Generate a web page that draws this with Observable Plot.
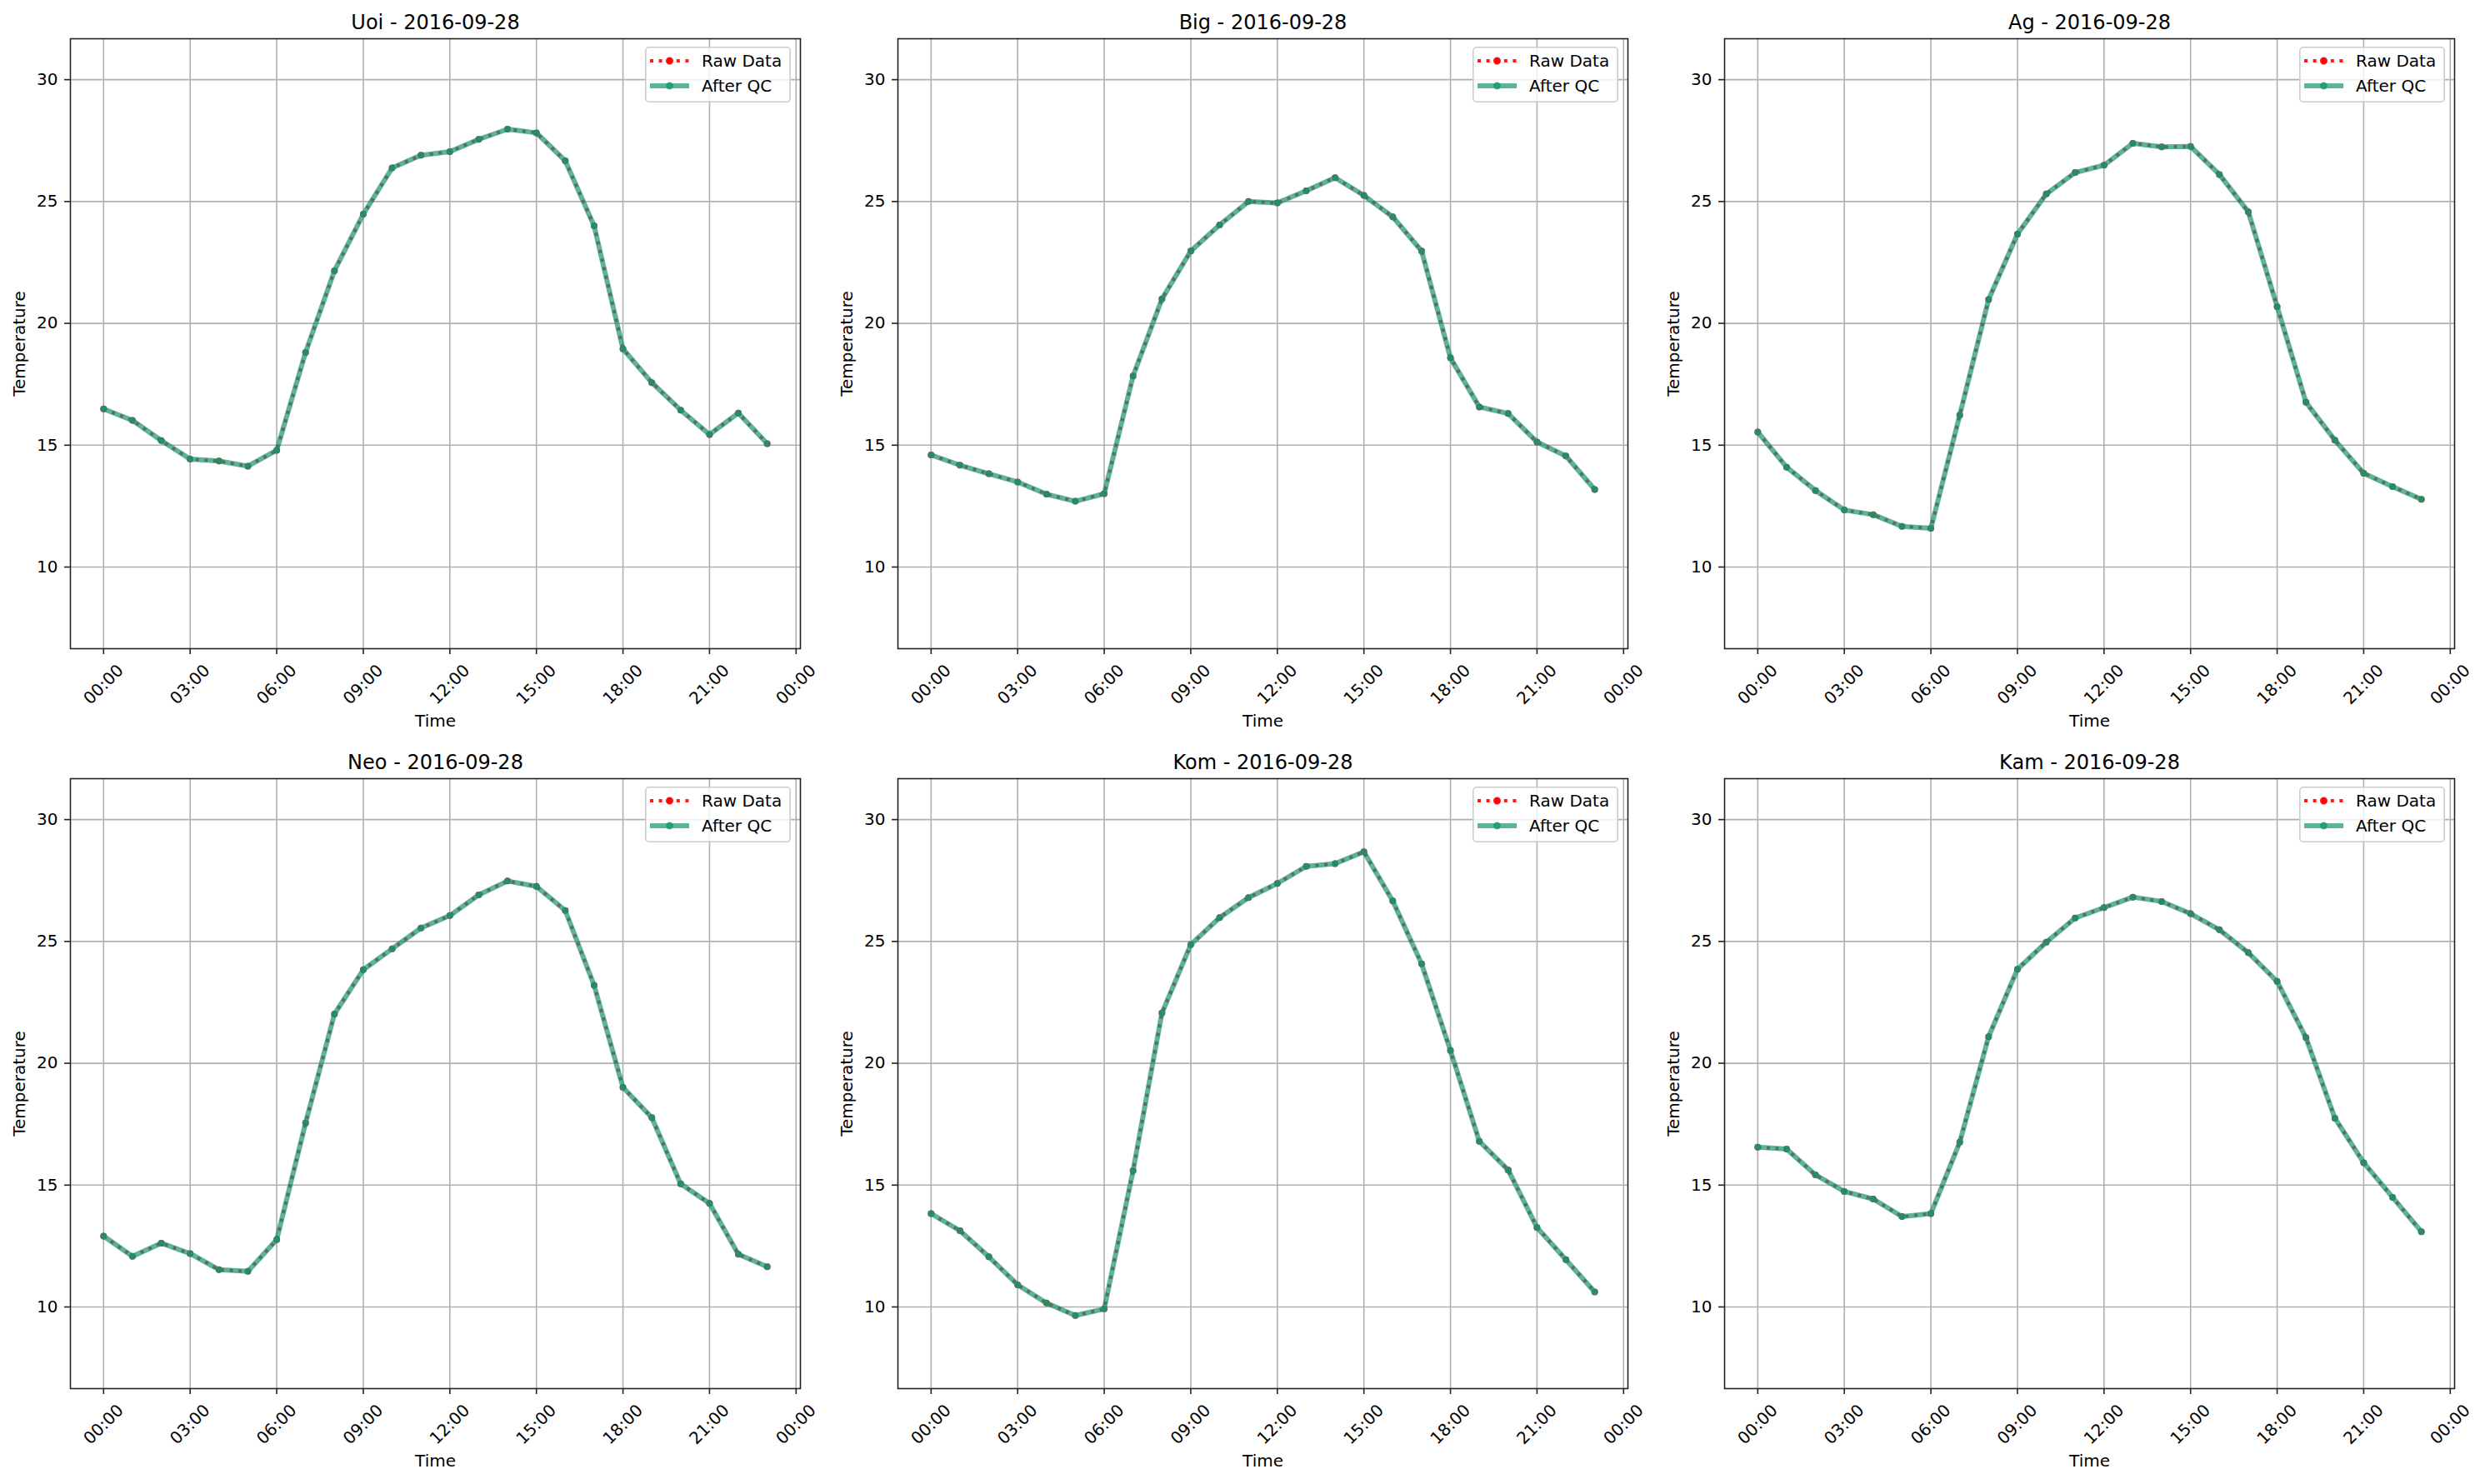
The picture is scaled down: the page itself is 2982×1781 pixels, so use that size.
<!DOCTYPE html>
<html>
<head>
<meta charset="utf-8">
<script src="https://cdn.jsdelivr.net/npm/d3@7"></script>
<script src="https://cdn.jsdelivr.net/npm/@observablehq/plot@0.6"></script>
<style>
  html, body { margin: 0; padding: 0; background: #ffffff; }
  #chart { position: relative; width: 2982px; height: 1781px; font-family: "DejaVu Sans", sans-serif; background: #ffffff; }
  .panel { position: absolute; }
  .legend { position: absolute; }
</style>
</head>
<body>
<div id="chart"></div>
<script>
// ---- data ----
const stations = ["Uoi", "Big", "Ag", "Neo", "Kom", "Kam"];
const dateLabel = "2016-09-28";
const hours = [0,1,2,3,4,5,6,7,8,9,10,11,12,13,14,15,16,17,18,19,20,21,22,23];

const uoi = [16.49,16.02,15.19,14.43,14.35,14.14,14.79,18.81,22.16,24.48,26.38,26.90,27.05,27.55,27.97,27.82,26.67,24.00,18.95,17.57,16.44,15.44,16.32,15.06];
const big = [14.60,14.18,13.83,13.49,12.99,12.70,13.01,17.84,21.00,22.97,24.04,25.00,24.94,25.44,25.98,25.25,24.37,22.97,18.58,16.57,16.30,15.13,14.56,13.18];
const ag  = [15.54,14.10,13.14,12.34,12.15,11.67,11.59,16.23,20.98,23.66,25.31,26.19,26.49,27.39,27.24,27.26,26.11,24.58,20.69,16.76,15.21,13.85,13.30,12.78];
const neo = [12.91,12.08,12.62,12.19,11.53,11.46,12.76,17.55,22.02,23.84,24.70,25.55,26.06,26.91,27.48,27.26,26.27,23.20,19.01,17.77,15.05,14.25,12.16,11.65];
const kom = [13.83,13.13,12.06,10.91,10.16,9.65,9.92,15.59,22.06,24.87,25.98,26.80,27.38,28.08,28.19,28.68,26.66,24.08,20.52,16.80,15.62,13.26,11.94,10.62];
const kam = [16.56,16.48,15.42,14.74,14.43,13.71,13.83,16.76,21.09,23.86,24.97,25.96,26.39,26.82,26.64,26.14,25.48,24.54,23.36,21.05,17.75,15.92,14.50,13.09];

// raw data and after-QC data coincide for this day
const rawSeries = [uoi, big, ag, neo, kom, kam];
const qcSeries  = [uoi, big, ag, neo, kom, kam];

const tickHours  = [0, 3, 6, 9, 12, 15, 18, 21, 24];
const tickLabels = ["00:00","03:00","06:00","09:00","12:00","15:00","18:00","21:00","00:00"];
const yTicks = [10, 15, 20, 25, 30];
const legendLabels = ["Raw Data", "After QC"];
const xLabel = "Time";
const yLabel = "Temperature";

// ---- style ----
const rawColor = "#ff0000";
const qcColor = "#17956f";
const gridColor = "#b0b0b0";
const axisColor = "#222222";
const FONT = "DejaVu Sans";

const W = 980, H = 888;
const mL = 84, mR = 20, mT = 46, mB = 110;
const colOffsets = [0, 993, 1985];
const rowOffsets = [0, 888];

const chart = document.getElementById("chart");

stations.forEach((name, i) => {
  const col = i % 3, row = Math.floor(i / 3);
  const rows = hours.map((h, k) => ({hour: h, raw: rawSeries[i][k], qc: qcSeries[i][k]}));
  const plot = Plot.plot({
    width: W, height: H,
    marginLeft: mL, marginRight: mR, marginTop: mT, marginBottom: mB,
    x: {domain: [-1.15, 24.15]},
    y: {domain: [6.65, 31.68]},
    style: {fontFamily: FONT, fontSize: "20px", color: "black", background: "transparent", overflow: "visible"},
    marks: [
      Plot.gridX(tickHours, {stroke: gridColor, strokeOpacity: 1, strokeWidth: 1.6}),
      Plot.gridY(yTicks, {stroke: gridColor, strokeOpacity: 1, strokeWidth: 1.6}),
      Plot.line(rows, {x: "hour", y: "raw", stroke: rawColor, strokeOpacity: 0.9, strokeWidth: 4, strokeDasharray: "4,6.6", strokeLinecap: "butt"}),
      Plot.dot(rows, {x: "hour", y: "raw", r: 3, fill: rawColor, fillOpacity: 0.9, stroke: rawColor, strokeOpacity: 0.9, strokeWidth: 2}),
      Plot.line(rows, {x: "hour", y: "qc", stroke: qcColor, strokeOpacity: 0.7, strokeWidth: 6}),
      Plot.dot(rows, {x: "hour", y: "qc", r: 3, fill: qcColor, fillOpacity: 0.7, stroke: qcColor, strokeOpacity: 0.7, strokeWidth: 2}),
      Plot.frame({stroke: axisColor, strokeWidth: 1.6}),
      Plot.axisX(tickHours, {tickSize: 7, tickFormat: () => "", label: null, stroke: axisColor, strokeWidth: 1.6}),
      Plot.text(tickHours, {x: d => d, text: (d, k) => tickLabels[k], frameAnchor: "bottom", dy: 43, rotate: -45, textAnchor: "middle", lineAnchor: "middle", fontSize: 20, fill: "black"}),
      Plot.axisY(yTicks, {tickSize: 7, tickPadding: 8, label: null, fontSize: 20, stroke: axisColor, strokeWidth: 1.6, fill: "black"}),
      Plot.text([`${name} - ${dateLabel}`], {text: d => d, frameAnchor: "top", dy: -12, lineAnchor: "bottom", fontSize: 24, fill: "black"}),
      Plot.text([yLabel], {text: d => d, frameAnchor: "left", dx: -61, rotate: -90, lineAnchor: "middle", textAnchor: "middle", fontSize: 20, fill: "black"}),
      Plot.text([xLabel], {text: d => d, frameAnchor: "bottom", dy: 87, lineAnchor: "middle", fontSize: 20, fill: "black"})
    ]
  });
  plot.classList.add("panel");
  plot.style.left = colOffsets[col] + "px";
  plot.style.top = rowOffsets[row] + "px";
  chart.appendChild(plot);

  // legend (upper right inside the axes)
  const lw = 175, lh = 67;
  const lg = d3.create("svg").attr("class", "legend").attr("width", lw).attr("height", lh)
    .style("left", (colOffsets[col] + mL + 876 - 11 - lw) + "px")
    .style("top", (rowOffsets[row] + mT + 10) + "px");
  lg.append("rect").attr("x", 0.8).attr("y", 0.8).attr("width", lw - 1.6).attr("height", lh - 1.6)
    .attr("rx", 4).attr("fill", "white").attr("fill-opacity", 0.8).attr("stroke", "#cccccc").attr("stroke-width", 1.6);
  const y1 = 17, y2 = 47;
  lg.append("line").attr("x1", 6).attr("x2", 53).attr("y1", y1).attr("y2", y1)
    .attr("stroke", rawColor).attr("stroke-opacity", 0.9).attr("stroke-width", 4).attr("stroke-dasharray", "4,6.6");
  lg.append("circle").attr("cx", 29.5).attr("cy", y1).attr("r", 3.5).attr("fill", rawColor).attr("fill-opacity", 0.9)
    .attr("stroke", rawColor).attr("stroke-opacity", 0.9).attr("stroke-width", 2);
  lg.append("line").attr("x1", 6).attr("x2", 53).attr("y1", y2).attr("y2", y2)
    .attr("stroke", qcColor).attr("stroke-opacity", 0.7).attr("stroke-width", 6);
  lg.append("circle").attr("cx", 29.5).attr("cy", y2).attr("r", 3.5).attr("fill", qcColor).attr("fill-opacity", 0.7)
    .attr("stroke", qcColor).attr("stroke-opacity", 0.7).attr("stroke-width", 2);
  [y1, y2].forEach((yy, k) => {
    lg.append("text").attr("x", 68).attr("y", yy).attr("dy", "0.35em")
      .attr("font-family", FONT).attr("font-size", 20).attr("fill", "black").text(legendLabels[k]);
  });
  chart.appendChild(lg.node());
});
</script>
</body>
</html>
